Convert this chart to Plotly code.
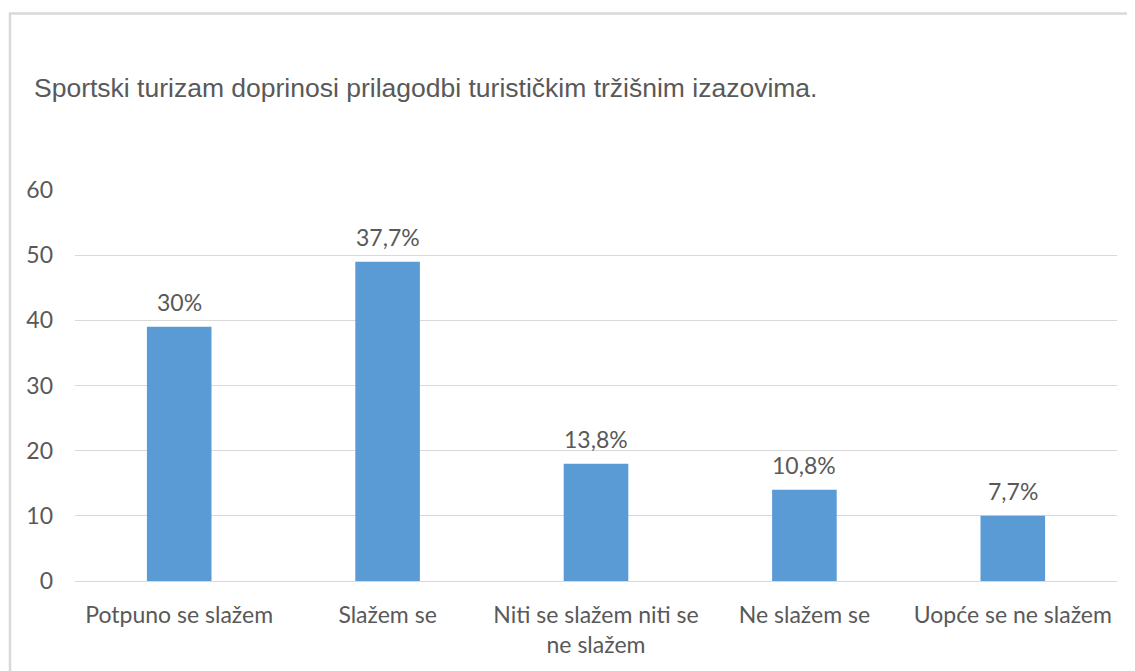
import plotly.graph_objects as go

categories = ["Potpuno se slažem", "Slažem se", "Niti se slažem niti se<br>ne slažem", "Ne slažem se", "Uopće se ne slažem"]
values = [39, 49, 18, 14, 10]
percent_labels = ["30%", "37,7%", "13,8%", "10,8%", "7,7%"]
y_ticks = [0, 10, 20, 30, 40, 50, 60]
title_text = "Sportski turizam doprinosi prilagodbi turističkim tržišnim izazovima."

# page body has an 8px margin; figure is sized to fill the rest of the window
OFF = 8
W, H = 1135 - OFF, 671 - OFF
L, R, T, B = 75 - OFF, 18, 190 - OFF, 90
pw = W - L - R
ph = H - T - B


def px_x(p):
    return (p - OFF - L) / pw


def px_y(p):
    return (H - B - (p - OFF)) / ph


fig = go.Figure(go.Bar(
    x=categories, y=values,
    marker=dict(color="#5b9bd5", line=dict(width=0)),
    hoverinfo="skip",
))

annotations = [dict(text=title_text, xref="paper", yref="paper",
                    x=px_x(32), y=px_y(88), xanchor="left", yanchor="middle",
                    showarrow=False,
                    font=dict(family="Liberation Sans", size=26.5, color="#595959"))]
for c, v, t in zip(categories, values, percent_labels):
    annotations.append(dict(x=c, y=v, xref="x", yref="y", text=t, showarrow=False,
                            yanchor="bottom", yshift=9,
                            font=dict(family="Lato", size=23, color="#595959")))

fig.update_layout(
    width=W, height=H,
    margin=dict(l=L, r=R, t=T, b=B, autoexpand=False),
    paper_bgcolor="white", plot_bgcolor="white",
    bargap=0.69, showlegend=False,
    font=dict(family="Lato", size=23, color="#595959"),
    xaxis=dict(showgrid=False, showline=True, linecolor="#d9d9d9", linewidth=1,
               ticks="", tickfont=dict(family="Lato", size=23, color="#595959"),
               ticklabelstandoff=13),
    yaxis=dict(range=[0, 60], tickvals=y_ticks, showgrid=True, gridcolor="#d9d9d9",
               gridwidth=1, zeroline=False, showline=False, ticks="",
               tickfont=dict(family="Lato", size=23, color="#595959"),
               ticklabelstandoff=21),
    shapes=[dict(type="rect", xref="paper", yref="paper",
                 x0=px_x(10), x1=px_x(1160), y0=px_y(700), y1=px_y(13.5),
                 line=dict(color="#d9d9d9", width=2.5), fillcolor="rgba(0,0,0,0)", layer="below")],
    annotations=annotations,
)

fig.write_html("out.html")
